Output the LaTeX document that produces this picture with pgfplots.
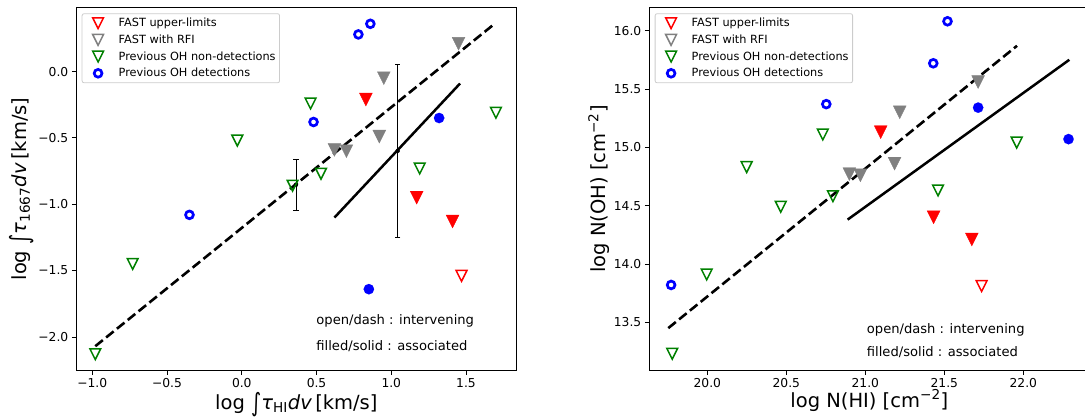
\documentclass[border=0pt]{standalone}
\usepackage{fontspec}
\setmainfont{DejaVu Sans}
\usepackage{graphicx}
\usepackage{pgfplots}
\pgfplotsset{compat=1.18}

\definecolor{mpred}{rgb}{1,0,0}
\definecolor{mpgreen}{rgb}{0,0.5,0}
\definecolor{mpgray}{rgb}{0.5,0.5,0.5}
\definecolor{mpblue}{rgb}{0,0,1}

\pgfdeclareplotmark{tridown}{%
  \pgfpathmoveto{\pgfqpoint{0pt}{-\pgfplotmarksize}}%
  \pgfpathlineto{\pgfqpoint{-\pgfplotmarksize}{\pgfplotmarksize}}%
  \pgfpathlineto{\pgfqpoint{\pgfplotmarksize}{\pgfplotmarksize}}%
  \pgfpathclose\pgfusepathqstroke}
\pgfdeclareplotmark{tridownf}{%
  \pgfpathmoveto{\pgfqpoint{0pt}{-\pgfplotmarksize}}%
  \pgfpathlineto{\pgfqpoint{-\pgfplotmarksize}{\pgfplotmarksize}}%
  \pgfpathlineto{\pgfqpoint{\pgfplotmarksize}{\pgfplotmarksize}}%
  \pgfpathclose\pgfusepathqfillstroke}

\newcommand{\intsym}{\raisebox{-0.1em}{\scalebox{1}[1.3]{∫}}}

\tikzset{annot/.style={anchor=base west, inner sep=0pt, font=\fontsize{13.1}{15}\selectfont}}

\pgfplotsset{
  opentri/.style={only marks, mark=tridown, mark size=5.4pt,
    mark options={draw=#1, line width=1.5pt, solid, sharp corners}},
  filltri/.style={only marks, mark=tridownf, mark size=6.4pt,
    mark options={draw=#1, fill=#1, line width=0.4pt, solid, sharp corners}},
  opencirc/.style={only marks, mark=o, mark size=3.9pt,
    mark options={draw=mpblue, line width=2.7pt, solid}},
  fillcirc/.style={only marks, mark=*, mark size=5.2pt,
    mark options={draw=mpblue, fill=mpblue, line width=0.1pt, solid}},
  mylegimg/.style={legend image code/.code={%
      \path[draw=none, fill=none, sharp corners] (-12pt,-6pt) rectangle (20.6pt,6pt);
      \draw[sharp corners, ##1] plot coordinates {(0pt,0pt)};}},
  base/.style={
    scale only axis, width=440.7pt, height=363.4pt, anchor=south west,
    tick align=outside, tick pos=left, major tick length=4.2pt,
    every tick/.style={black, line width=0.85pt},
    axis line style={line width=0.85pt},
    ticklabel style={font=\fontsize{12.3}{14}\selectfont},
    label style={font=\fontsize{19.5}{23}\selectfont},
    mylegimg,
    legend cell align=left,
    legend style={at={(axis description cs:0,1)}, anchor=north west,
      xshift=5.7pt, yshift=-6pt, draw=black!20, line width=0.8pt,
      rounded corners=2pt, fill=white,
      font=\fontsize{11.3}{13}\selectfont,
      inner xsep=4pt, inner ysep=3.5pt, row sep=4.7pt,
      nodes={inner sep=0pt}},
  },
}

\begin{document}
\begin{tikzpicture}
%------------------------------------------------ left panel
\begin{axis}[base, at={(76pt,46.3pt)},
  xmin=-1.109, xmax=1.839, ymin=-2.2545, ymax=0.4845,
  xtick={-1,-0.5,0,0.5,1,1.5},
  xticklabels={−1.0,−0.5,0.0,0.5,1.0,1.5},
  ytick={-2,-1.5,-1,-0.5,0},
  yticklabels={−2.0,−1.5,−1.0,−0.5,0.0},
  xlabel={log \intsym\textit{τ}\textsubscript{HI}\textit{dv}\,[km/s]},
  ylabel={log \intsym\textit{τ}\textsubscript{1667}\textit{dv}\,[km/s]},
  xlabel style={at={(axis description cs:0.5,-0.1065)}, anchor=base},
  ylabel style={at={(axis description cs:-0.1232,0.5)}, anchor=center},
]
\addlegendimage{opentri=mpred}\addlegendentry{FAST upper-limits}
\addlegendimage{opentri=mpgray}\addlegendentry{FAST with RFI}
\addlegendimage{opentri=mpgreen}\addlegendentry{Previous OH non-detections}
\addlegendimage{opencirc}\addlegendentry{Previous OH detections}

\addplot[forget plot, black, line width=2.6pt, dash pattern=on 9.7pt off 4.2pt]
  coordinates {(-0.98,-2.07) (1.68,0.35)};
\addplot[forget plot, black, line width=2.5pt]
  coordinates {(0.62,-1.10) (1.46,-0.09)};
\addplot[forget plot, black, only marks, mark=none,
  error bars/.cd, y dir=both, y explicit,
  error bar style={line width=0.9pt, black},
  error mark options={rotate=90, line width=0.9pt, black, mark size=2.7pt}]
  coordinates {(0.3625,-0.853) +- (0,0.192) (1.043,-0.597) +- (0,0.652)};

\addplot[forget plot, filltri=mpred] coordinates {(0.83,-0.21) (1.17,-0.95) (1.41,-1.13)};
\addplot[forget plot, opentri=mpred] coordinates {(1.47,-1.54)};
\addplot[forget plot, filltri=mpgray] coordinates {(1.45,0.21) (0.95,-0.05) (0.92,-0.49) (0.62,-0.59) (0.70,-0.60)};
\addplot[forget plot, opentri=mpgreen] coordinates {(0.46,-0.24) (-0.03,-0.52) (0.34,-0.86) (0.53,-0.77) (1.19,-0.73) (1.70,-0.31) (-0.73,-1.45) (-0.98,-2.13)};
\addplot[forget plot, opencirc] coordinates {(0.78,0.28) (0.86,0.36) (0.48,-0.38) (-0.35,-1.08)};
\addplot[forget plot, fillcirc] coordinates {(1.32,-0.35) (0.85,-1.64)};

\node[annot] at (axis cs:0.498,-1.904) {open/dash : intervening};
\node[annot] at (axis cs:0.498,-2.103) {filled/solid : associated};
\end{axis}
%------------------------------------------------ right panel
\begin{axis}[base, at={(649pt,46.3pt)},
  xmin=19.631, xmax=22.42, ymin=13.085, ymax=16.2,
  xtick={20,20.5,21,21.5,22},
  xticklabels={20.0,20.5,21.0,21.5,22.0},
  ytick={13.5,14,14.5,15,15.5,16},
  yticklabels={13.5,14.0,14.5,15.0,15.5,16.0},
  xlabel={log N(HI) [cm\textsuperscript{−2}]},
  ylabel={log N(OH) [cm\textsuperscript{−2}]},
  xlabel style={at={(axis description cs:0.5,-0.1007)}, anchor=base},
  ylabel style={at={(axis description cs:-0.1135,0.5)}, anchor=center},
]
\addlegendimage{opentri=mpred}\addlegendentry{FAST upper-limits}
\addlegendimage{opentri=mpgray}\addlegendentry{FAST with RFI}
\addlegendimage{opentri=mpgreen}\addlegendentry{Previous OH non-detections}
\addlegendimage{opencirc}\addlegendentry{Previous OH detections}

\addplot[forget plot, black, line width=2.6pt, dash pattern=on 9.7pt off 4.2pt]
  coordinates {(19.753,13.45) (21.960,15.87)};
\addplot[forget plot, black, line width=2.5pt]
  coordinates {(20.888,14.38) (22.291,15.75)};

\addplot[forget plot, filltri=mpred] coordinates {(21.097,15.13) (21.432,14.40) (21.674,14.21)};
\addplot[forget plot, opentri=mpred] coordinates {(21.736,13.81)};
\addplot[forget plot, filltri=mpgray] coordinates {(21.714,15.56) (21.218,15.30) (21.185,14.86) (20.899,14.77) (20.969,14.76)};
\addplot[forget plot, opentri=mpgreen] coordinates {(20.731,15.11) (20.249,14.83) (20.465,14.49) (20.795,14.58) (21.460,14.63) (21.958,15.04) (19.996,13.91) (19.778,13.23)};
\addplot[forget plot, opencirc] coordinates {(21.520,16.08) (21.430,15.72) (20.753,15.37) (19.771,13.82)};
\addplot[forget plot, fillcirc] coordinates {(21.714,15.34) (22.286,15.07)};

\node[annot] at (axis cs:21.009,13.405) {open/dash : intervening};
\node[annot] at (axis cs:21.009,13.205) {filled/solid : associated};
\end{axis}
\pgfresetboundingbox
\useasboundingbox (0pt,0pt) rectangle (1085pt,417pt);
\end{tikzpicture}
\end{document}
